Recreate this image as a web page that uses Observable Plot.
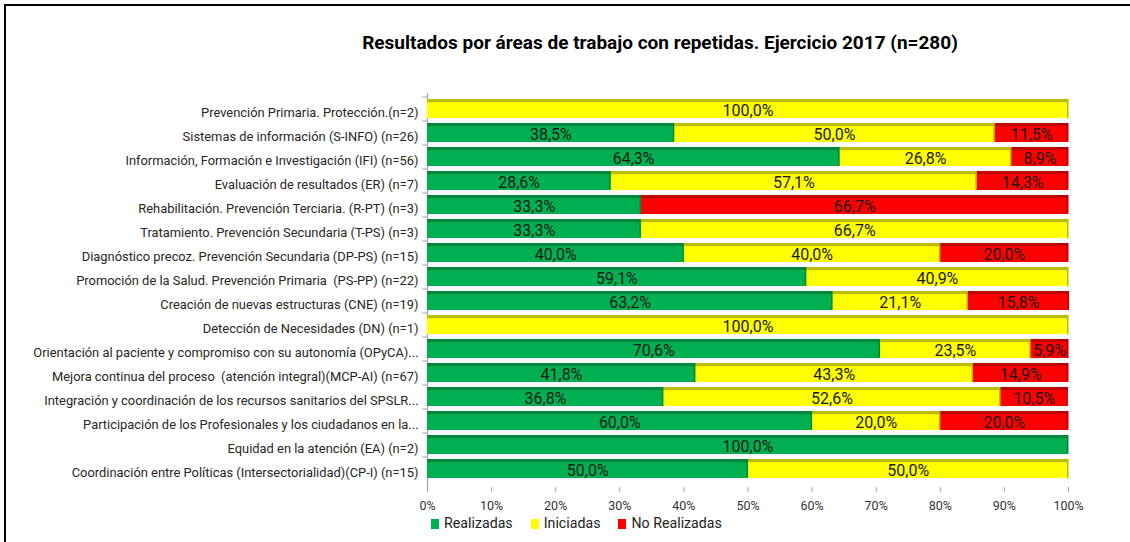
<!DOCTYPE html>
<html>
<head>
<meta charset="utf-8">
<script src="https://cdn.jsdelivr.net/npm/d3@7"></script>
<script src="https://cdn.jsdelivr.net/npm/@observablehq/plot@0.6"></script>
<style>
  html, body { margin: 0; padding: 0; background: #fff; }
  #wrap { position: relative; width: 1130px; height: 542px; overflow: hidden; background: #fff;
          font-family: Roboto, "Liberation Sans", sans-serif; }
  #frame { position: absolute; left: 4px; top: 4px; width: 1200px; height: 600px;
           border-top: 2px solid #000; border-left: 2px solid #000; pointer-events: none; }
  #title { position: absolute; left: 160px; width: 1000px; top: 31px; text-align: center;
           font-weight: bold; font-size: 19px; color: #000; }
  #chart { position: absolute; left: 0; top: 0; }
  #legend { position: absolute; left: 431px; top: 515px; font-size: 14.2px; color: #222; display: flex; gap: 18px; }
  #legend span.sw { display: inline-block; width: 8px; height: 10px; margin-right: 5px; vertical-align: -1px; }
</style>
</head>
<body>
<div id="wrap">
  <div id="title">Resultados por áreas de trabajo con repetidas. Ejercicio 2017 (n=280)</div>
  <div id="chart"></div>
  <div id="legend"></div>
  <div id="frame"></div>
</div>
<script>
const categories = [
  "Prevención Primaria. Protección.(n=2)",
  "Sistemas de información (S-INFO) (n=26)",
  "Información, Formación e Investigación (IFI) (n=56)",
  "Evaluación de resultados (ER) (n=7)",
  "Rehabilitación. Prevención Terciaria. (R-PT) (n=3)",
  "Tratamiento. Prevención Secundaria (T-PS) (n=3)",
  "Diagnóstico precoz. Prevención Secundaria (DP-PS) (n=15)",
  "Promoción de la Salud. Prevención Primaria  (PS-PP) (n=22)",
  "Creación de nuevas estructuras (CNE) (n=19)",
  "Detección de Necesidades (DN) (n=1)",
  "Orientación al paciente y compromiso con su autonomía (OPyCA)...",
  "Mejora continua del proceso  (atención integral)(MCP-AI) (n=67)",
  "Integración y coordinación de los recursos sanitarios del SPSLR...",
  "Participación de los Profesionales y los ciudadanos en la...",
  "Equidad en la atención (EA) (n=2)",
  "Coordinación entre Políticas (Intersectorialidad)(CP-I) (n=15)"
];
const realizadas   = [0, 38.5, 64.3, 28.6, 33.3, 33.3, 40.0, 59.1, 63.2, 0, 70.6, 41.8, 36.8, 60.0, 100.0, 50.0];
const iniciadas    = [100.0, 50.0, 26.8, 57.1, 0, 66.7, 40.0, 40.9, 21.1, 100.0, 23.5, 43.3, 52.6, 20.0, 0, 50.0];
const noRealizadas = [0, 11.5, 8.9, 14.3, 66.7, 0, 20.0, 0, 15.8, 0, 5.9, 14.9, 10.5, 20.0, 0, 0];
const seriesNames  = ["Realizadas", "Iniciadas", "No Realizadas"];
const seriesColors = ["#00B050", "#FFFF00", "#FF0000"];
const seriesDark   = ["#00893E", "#BDBD00", "#C00000"];
const xTicks = [0, 10, 20, 30, 40, 50, 60, 70, 80, 90, 100];

const seriesValues = [realizadas, iniciadas, noRealizadas];
const rows = [];
categories.forEach((c, i) => {
  seriesNames.forEach((s, j) => {
    const v = seriesValues[j][i];
    if (v > 0) rows.push({cat: c, series: s, value: v});
  });
});
const darkOf = Object.fromEntries(seriesNames.map((s, j) => [s, seriesDark[j]]));
const fmt = v => v.toFixed(1).replace(".", ",") + "%";

const W = 1130, H = 542;
const mL = 427, mR = 62, mT = 93, mB = 55;
const yRange = [96, 481.6];
const bw = 24.1 * 0.78;

const stackOpts = {x: "value", y: "cat", z: "series", order: seriesNames};

const chart = Plot.plot({
  width: W, height: H,
  marginLeft: mL, marginRight: mR, marginTop: mT, marginBottom: mB,
  style: {fontFamily: 'Roboto, "Liberation Sans", sans-serif', background: "transparent", overflow: "visible"},
  x: {domain: [0, 100], ticks: xTicks, label: null},
  y: {domain: categories, range: yRange, paddingInner: 0.22, paddingOuter: 0.11, label: null},
  color: {domain: seriesNames, range: seriesColors},
  marks: [
    Plot.ruleX([0], {stroke: "#a6a6a6", strokeWidth: 1.2}),
    Plot.axisX({ticks: xTicks, tickSize: 5, stroke: "#a6a6a6", tickPadding: 9, fontSize: 12.5, fill: "#333", tickFormat: d => d + "%", label: null}),
    Plot.ruleY([0], {frameAnchor: "bottom", stroke: "#a6a6a6", strokeWidth: 1.2}),
    Plot.axisY({tickSize: 5, stroke: "#a6a6a6", tickFormat: () => "", dy: -12, label: null}),
    Plot.axisY({tickSize: 0, tickPadding: 9, dy: 4, fontSize: 12.9, fill: "#262626", label: null}),
    Plot.barX(rows, Plot.stackX({...stackOpts, fill: "series"})),
    Plot.barX(rows, Plot.stackX({...stackOpts, fill: d => darkOf[d.series], insetBottom: bw - 3})),
    Plot.tickX(rows, Plot.stackX2({...stackOpts, stroke: d => darkOf[d.series], strokeWidth: 1.5, dx: -0.75})),
    Plot.text(rows, Plot.stackX({...stackOpts, text: d => fmt(d.value), fontSize: 16, fill: "#1a1a1a", dy: 2}))
  ]
});
document.getElementById("chart").appendChild(chart);

const legend = document.getElementById("legend");
seriesNames.forEach((s, j) => {
  const item = document.createElement("div");
  item.innerHTML = `<span class="sw" style="background:${seriesColors[j]}"></span>${s}`;
  legend.appendChild(item);
});
</script>
</body>
</html>
